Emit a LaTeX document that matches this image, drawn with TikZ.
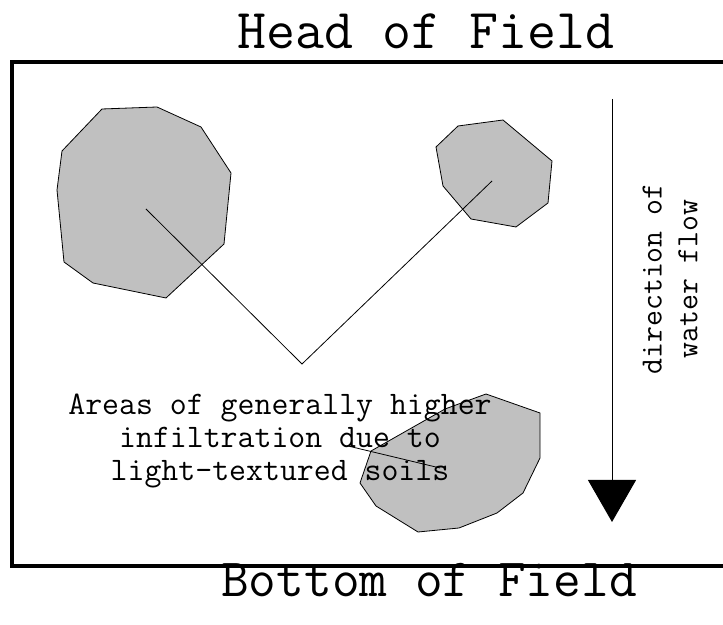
\documentclass[tikz,border=0pt]{standalone}
\usepackage{tikz}
\usetikzlibrary{arrows.meta}
\definecolor{soilgray}{RGB}{192,192,192}

\begin{document}
\begin{tikzpicture}[
  x=1bp, y=1bp,
  patch/.style={draw, fill=soilgray, line width=0.8bp, line join=miter},
  lead/.style={line width=0.8bp},
  head/.style={font=\ttfamily\fontsize{56.5}{66}\selectfont, inner sep=0pt},
  note/.style={font=\ttfamily\fontsize{33}{33.5}\selectfont, align=center, inner sep=0pt},
  flowlbl/.style={font=\ttfamily\fontsize{31}{36}\selectfont, align=center, inner sep=0pt, rotate=90},
  >={Triangle[length=42bp,width=48bp]}
]
\useasboundingbox (0,0) rectangle (723,625);

% field border, open on the right
\draw[line width=3.5bp] (723,563) -- (12,563) -- (12,59) -- (723,59);

\node[head] (hd) at (426,594) {Head of Field};
\node[head, font=\ttfamily\fontsize{54}{64}\selectfont] (bt) at (429,45) {Bottom of Field};

% light-textured patches
\draw[patch] (102,516) -- (157,518) -- (201,498) -- (231,452) -- (224,381)
  -- (166,327) -- (93,342) -- (64,363) -- (57,435) -- (62,474) -- cycle;
\draw[patch] (458,499) -- (503,505) -- (552,464) -- (548,422) -- (516,398)
  -- (471,406) -- (443,439) -- (436,478) -- cycle;
\draw[patch] (486,231) -- (540,212) -- (540,167) -- (523,132) -- (497,112)
  -- (459,97) -- (418,93) -- (376,119) -- (360,142) -- (371,174) -- (445,216) -- cycle;

\coordinate (pa) at (146,416);
\coordinate (pv) at (302,261);
\coordinate (pb) at (492,444);
\coordinate (ls) at (348,179);
\coordinate (pc) at (440,157);

\node[note] (txt) at (280,184) {Areas of generally higher\\infiltration due to\\light-textured soils};

\draw[lead] (pa) -- (pv) -- (pb);
\draw[lead] (ls) -- (pc);

% flow direction
\coordinate (ftop) at (612,526);
\coordinate (fbot) at (612,103);
\draw[->, line width=1bp] (ftop) -- (fbot);
\node[flowlbl] (fl) at (670,346) {direction of\\water flow};
\end{tikzpicture}
\end{document}
